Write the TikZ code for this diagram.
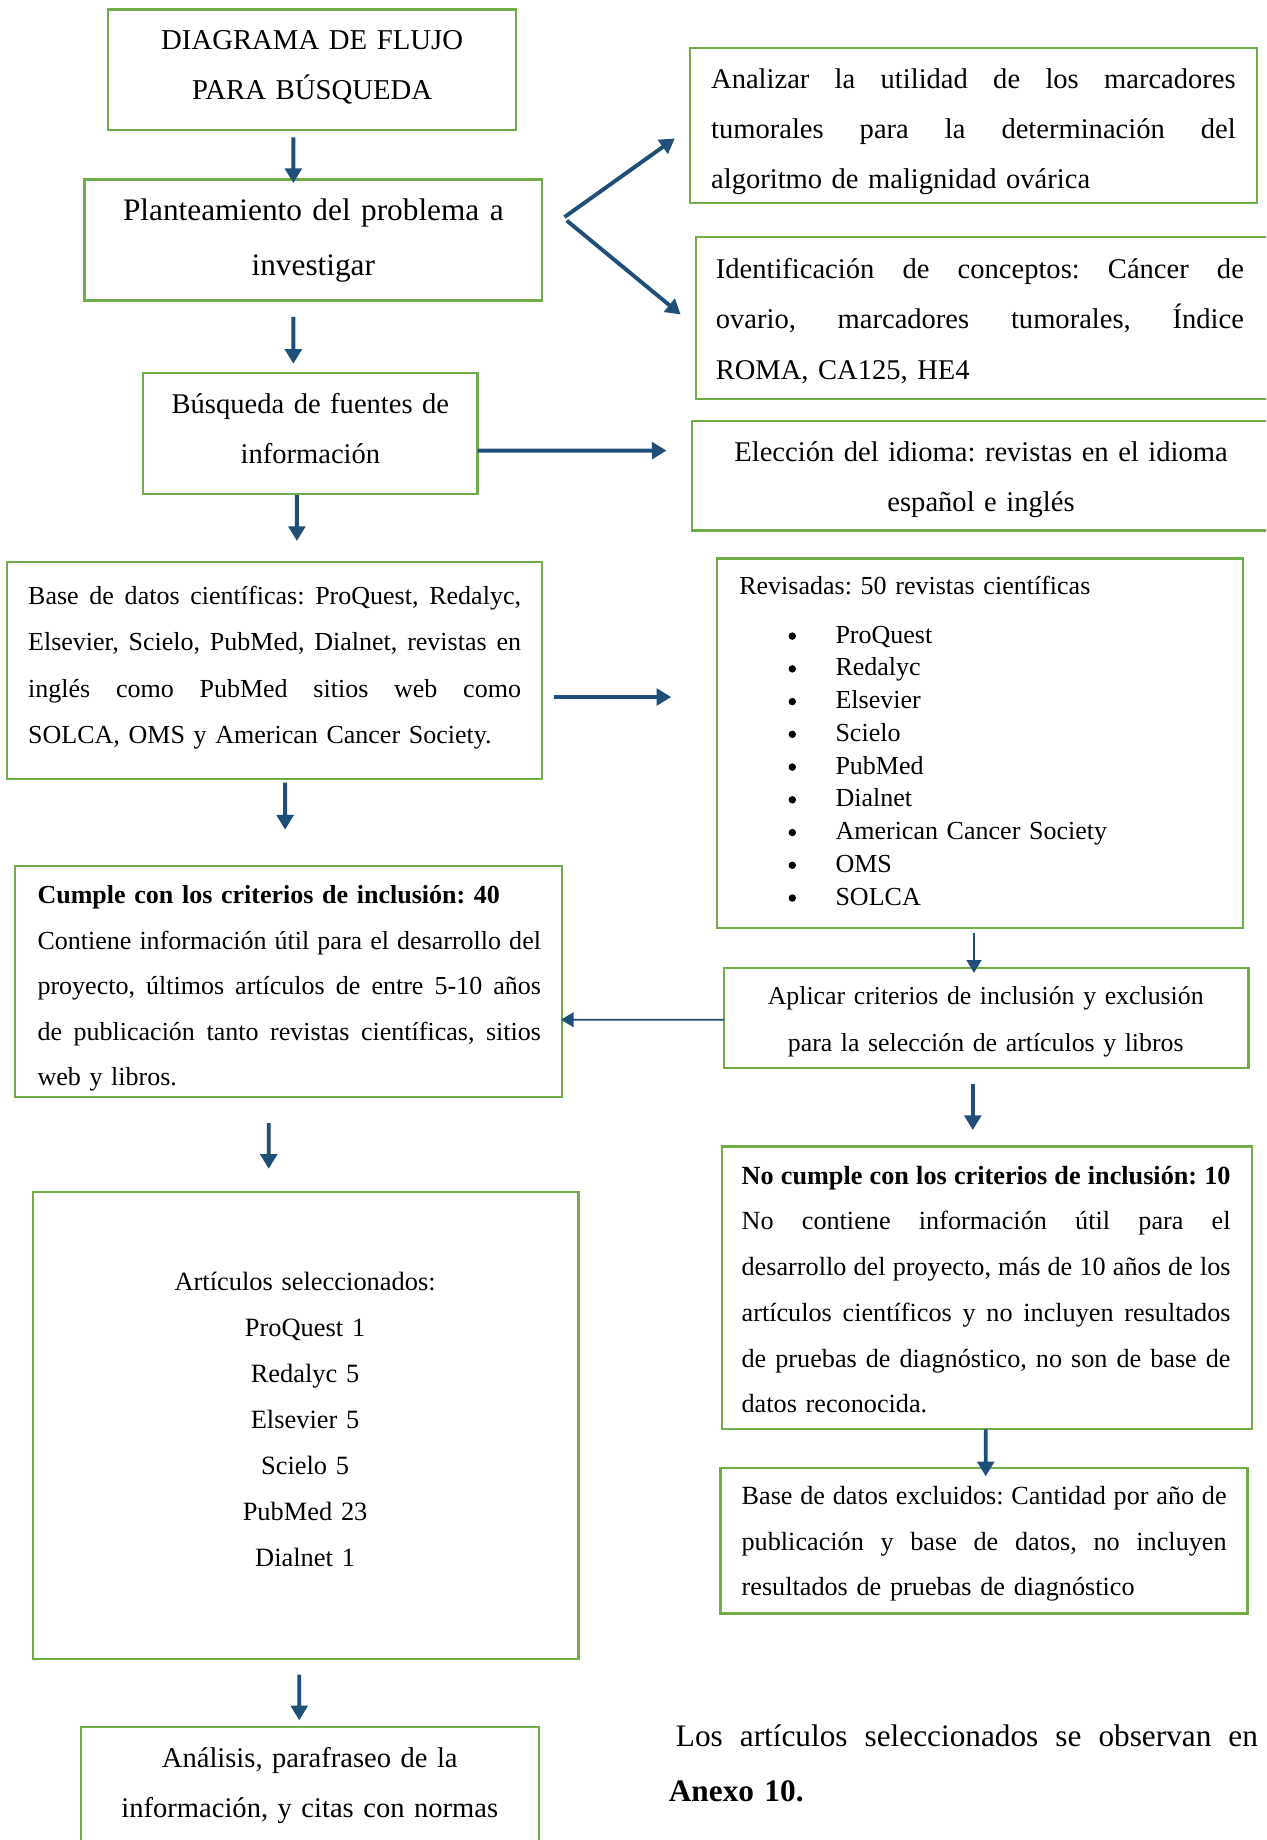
\documentclass[tikz,border=0pt]{standalone}
\usepackage{fontspec}
\setmainfont{Liberation Serif}
\usetikzlibrary{arrows.meta,fit}
\definecolor{gr}{HTML}{70AD47}
\definecolor{ab}{HTML}{1F4E79}
\frenchspacing
\newcommand\fs[2]{\fontsize{#1pt}{#2pt}\selectfont}
\newcommand\jl[2]{\leavevmode\hbox to #1{\spaceskip=0.25em plus 1fil minus 0.1em\relax #2}}
\newcommand\bul{\hspace*{25.2pt}\makebox[24pt][l]{\tikz[baseline=-3.6pt]\fill[black] (0,0) circle (1.9pt);}}
\begin{document}
\begin{tikzpicture}[x=0.6pt,y=-0.6pt,
  gbox/.style={draw=gr, line width=1.15pt, inner sep=0pt, outer sep=0pt, rectangle},
  tx/.style={inner sep=0pt, outer sep=0pt, text=black},
  arr/.style={draw=ab, line width=2pt, -{Triangle[width=8.5pt,length=7.5pt]}},
  tarr/.style={draw=ab, line width=1pt, -{Triangle[width=7.5pt,length=6.5pt]}}]
\path[use as bounding box] (0,0) rectangle (1079,1568);
\clip (0,0) rectangle (1079,1568);
\fill[white] (0,0) rectangle (1079,1568);

% boxes
\node[gbox, fit={(92,8) (440,111)}] (title) {};
\node[gbox, fit={(72,153) (462,256)}] (plan) {};
\node[gbox, fit={(588,41) (1071,173)}] (anal) {};
\node[gbox, fit={(593,202) (1090,340)}] (ident) {};
\node[gbox, fit={(122,318) (407,421)}] (busq) {};
\node[gbox, fit={(590,359) (1090,452)}] (elec) {};
\node[gbox, fit={(6,479) (462,664)}] (base) {};
\node[gbox, fit={(611,476) (1059,791)}] (rev) {};
\node[gbox, fit={(617,825) (1064,910)}] (apl) {};
\node[gbox, fit={(13,738) (479,935)}] (cumple) {};
\node[gbox, fit={(615,977) (1067,1218)}] (nocumple) {};
\node[gbox, fit={(614,1251) (1063,1375)}] (excl) {};
\node[gbox, fit={(28,1016) (493,1414)}] (art) {};
\node[gbox, fit={(69,1472) (459,1600)}] (anls) {};

% texts
\node[tx, anchor=north, text width=200pt, align=center, font=\fs{14.7}{25.8}] (title-t) at (266,11.9)
  {\strut DIAGRAMA DE FLUJO\\PARA BÚSQUEDA};
\node[tx, anchor=north, text width=230pt, align=center, font=\fs{16}{28.2}] (plan-t) at (267,155.1)
  {\strut Planteamiento del problema a\\investigar};
\node[tx, anchor=north west, text width=270pt, align=left, font=\fs{14.6}{25.8}] (anal-t) at (606,44.9)
  {\strut\jl{268.2pt}{Analizar la utilidad de los marcadores}\\\jl{268.2pt}{tumorales para la determinación del}\\algoritmo de malignidad ovárica};
\node[tx, anchor=north west, text width=272pt, align=left, font=\fs{14.6}{25.8}] (ident-t) at (610,206.9)
  {\strut\jl{270pt}{Identificación de conceptos: Cáncer de}\\\jl{270pt}{ovario, marcadores tumorales, Índice}\\ROMA, CA125, HE4};
\node[tx, anchor=north, text width=170pt, align=center, font=\fs{14.6}{25.8}] (busq-t) at (264.5,322)
  {\strut Búsqueda de fuentes de\\información};
\node[tx, anchor=north, text width=290pt, align=center, font=\fs{14.6}{25.8}] (elec-t) at (836,363)
  {\strut Elección del idioma: revistas en el idioma\\español e inglés};
\node[tx, anchor=north west, text width=254pt, align=left, font=\fs{13.3}{23.8}] (base-t) at (24,487.2)
  {\strut\jl{252pt}{Base de datos científicas: ProQuest, Redalyc,}\\\jl{252pt}{Elsevier, Scielo, PubMed, Dialnet, revistas en}\\\jl{252pt}{inglés como PubMed sitios web como}\\SOLCA, OMS y American Cancer Society.};
\node[tx, anchor=north west, text width=250pt, align=left, font=\fs{13.3}{16.74}] (rev-t) at (630,487.5)
  {\strut Revisadas: 50 revistas científicas\\[7.9pt]
   \bul ProQuest\\
   \bul Redalyc\\
   \bul Elsevier\\
   \bul Scielo\\
   \bul PubMed\\
   \bul Dialnet\\
   \bul American Cancer Society\\
   \bul OMS\\
   \bul SOLCA};
\node[tx, anchor=north, text width=260pt, align=center, font=\fs{13.2}{24}] (apl-t) at (840,828)
  {\strut Aplicar criterios de inclusión y exclusión\\para la selección de artículos y libros};
\node[tx, anchor=north west, text width=260pt, align=left, font=\fs{13.3}{23.25}] (cumple-t) at (32,743)
  {\strut\textbf{Cumple con los criterios de inclusión: 40}\\\jl{257.4pt}{Contiene información útil para el desarrollo del}\\\jl{257.4pt}{proyecto, últimos artículos de entre 5-10 años}\\\jl{257.4pt}{de publicación tanto revistas científicas, sitios}\\web y libros.};
\node[tx, anchor=north west, text width=252pt, align=left, font=\fs{13.4}{23.4}] (nocumple-t) at (632,981.7)
  {\strut\jl{250pt}{\textbf{No cumple con los criterios de inclusión: 10}}\\\jl{250pt}{No contiene información útil para el}\\\jl{250pt}{desarrollo del proyecto, más de 10 años de los}\\\jl{250pt}{artículos científicos y no incluyen resultados}\\\jl{250pt}{de pruebas de diagnóstico, no son de base de}\\datos reconocida.};
\node[tx, anchor=north west, text width=250pt, align=left, font=\fs{13.4}{23.4}] (excl-t) at (632,1254.7)
  {\strut\jl{248pt}{Base de datos excluidos: Cantidad por año de}\\\jl{248pt}{publicación y base de datos, no incluyen}\\resultados de pruebas de diagnóstico};
\node[tx, anchor=north, text width=200pt, align=center, font=\fs{13.5}{23.5}] (art-t) at (260,1072.6)
  {\strut Artículos seleccionados:\\ProQuest 1\\Redalyc 5\\Elsevier 5\\Scielo 5\\PubMed 23\\Dialnet 1};
\node[tx, anchor=north, text width=220pt, align=center, font=\fs{14.6}{25.8}] (anls-t) at (264,1476)
  {\strut Análisis, parafraseo de la\\información, y citas con normas};
\node[tx, anchor=north west, text width=305pt, align=left, font=\fs{16}{28.2}] (nota) at (570,1455)
  {\strut\hspace*{3.6pt}\jl{297.6pt}{Los artículos seleccionados se observan en}\\\textbf{Anexo 10.}};

% connectors
\draw[arr, shorten <=3.6pt, shorten >=-1.8pt] ([xshift=-9.6pt]title.south) -- ([xshift=-10.2pt]plan.north);
\draw[arr, shorten <=8.4pt, shorten >=4.8pt] ([xshift=-10.2pt]plan.south) -- ([xshift=-8.7pt]busq.north);
\draw[arr, shorten <=0.6pt, shorten >=10.8pt] ([xshift=-6.9pt]busq.south) -- ([xshift=11.4pt]base.north);
\draw[arr, shorten <=1.8pt, shorten >=18.6pt] ([xshift=5.4pt]base.south) -- ([xshift=-1.8pt]cumple.north);
\draw[arr, shorten <=13.2pt, shorten >=12pt] ([xshift=-10.2pt]cumple.south) -- ([xshift=-18.9pt]art.north);
\draw[arr, shorten <=7.8pt, shorten >=3.6pt] ([xshift=-3.3pt]art.south) -- ([xshift=-5.4pt]anls.north);
\draw[arr] ([xshift=11.4pt,yshift=11.7pt]plan.east) -- ([xshift=-7.8pt,yshift=-6.6pt]anal.west);
\draw[arr] ([xshift=12.6pt,yshift=9.9pt]plan.east) -- ([xshift=-7.8pt,yshift=1.8pt]ident.west);
\draw[arr] ([yshift=-8.7pt]busq.east) -- ([xshift=-13.2pt,yshift=12.9pt]elec.west);
\draw[arr] ([xshift=6pt,yshift=-13.5pt]base.east) -- ([xshift=-23.4pt,yshift=23.7pt]rev.west);
\draw[tarr, shorten <=2.4pt, shorten >=-2.4pt] ([xshift=-3pt]rev.south) -- ([xshift=-6.3pt]apl.north);
\draw[tarr, shorten >=-0.6pt] ([yshift=-0.9pt]apl.west) -- ([yshift=-19.5pt]cumple.east);
\draw[arr, shorten <=8.4pt, shorten >=8.4pt] ([xshift=-6.9pt]apl.south) -- ([xshift=-7.2pt]nocumple.north);
\draw[arr, shorten >=-4.2pt] ([xshift=-0.6pt]nocumple.south) -- ([xshift=0.9pt]excl.north);
\end{tikzpicture}
\end{document}
